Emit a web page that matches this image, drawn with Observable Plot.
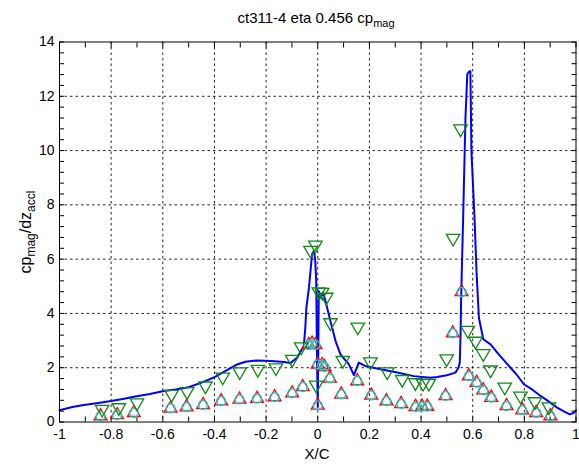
<!DOCTYPE html>
<html><head><meta charset="utf-8">
<script src="https://cdn.jsdelivr.net/npm/d3@7"></script>
<script src="https://cdn.jsdelivr.net/npm/@observablehq/plot@0.6"></script>
<style>body{margin:0;background:#fff}</style>
</head><body><div id="chart"></div>
<script>
// CFD line (x/c, cp_mag/dz_accl)
const lineX = [-1.00,-0.95,-0.906,-0.85,-0.80,-0.75,-0.712,-0.65,-0.596,-0.55,-0.50,-0.45,-0.40,-0.35,-0.312,-0.28,-0.234,-0.18,-0.131,-0.106,-0.08,-0.073,-0.054,-0.048,-0.044,-0.034,-0.022,-0.015,-0.010,-0.006,-0.003,0.000,0.002,0.004,0.011,0.021,0.030,0.049,0.069,0.088,0.105,0.120,0.140,0.159,0.185,0.243,0.308,0.372,0.437,0.462,0.500,0.533,0.545,0.550,0.553,0.555,0.563,0.572,0.579,0.585,0.591,0.593,0.595,0.607,0.615,0.624,0.641,0.669,0.700,0.734,0.770,0.798,0.830,0.863,0.895,0.927,0.955,0.976,0.990,1.000];
const lineY = [0.43,0.55,0.63,0.70,0.77,0.86,0.93,1.03,1.14,1.20,1.28,1.45,1.65,1.92,2.12,2.22,2.27,2.25,2.21,2.17,2.37,2.49,2.80,3.50,4.21,4.95,6.18,6.30,6.00,5.20,2.50,0.55,2.50,4.83,4.58,4.76,4.46,3.72,2.98,2.49,2.30,2.13,1.73,2.19,2.06,1.94,1.82,1.69,1.63,1.66,1.72,1.82,2.00,2.19,3.20,4.46,7.53,11.20,12.81,12.90,12.93,11.50,9.99,7.53,5.50,3.84,3.05,2.86,2.50,2.13,1.75,1.39,1.20,0.96,0.75,0.53,0.38,0.28,0.33,0.43];

// experiment (green, down triangles)
const greenX = [-0.835,-0.77,-0.70,-0.566,-0.506,-0.435,-0.368,-0.302,-0.232,-0.162,-0.099,-0.064,-0.028,-0.009,-0.006,0.004,0.017,0.033,0.049,0.097,0.155,0.204,0.269,0.327,0.378,0.408,0.430,0.499,0.524,0.553,0.581,0.611,0.641,0.669,0.724,0.785,0.841,0.895];
const greenY = [0.47,0.53,0.71,1.02,1.12,1.33,1.66,1.85,1.94,2.00,2.31,2.77,6.33,6.52,1.36,4.80,4.78,4.60,3.66,2.27,3.50,2.22,1.85,1.57,1.45,1.43,1.43,2.33,6.77,10.80,3.38,2.98,2.52,1.92,1.29,0.96,0.75,0.56];

// experiment (red triangles + cyan circles)
const redX = [-0.841,-0.777,-0.712,-0.570,-0.508,-0.444,-0.374,-0.303,-0.235,-0.167,-0.099,-0.058,-0.035,-0.022,-0.009,0.000,0.000,0.017,0.026,0.047,0.091,0.153,0.207,0.266,0.323,0.379,0.404,0.424,0.495,0.523,0.557,0.585,0.615,0.641,0.672,0.731,0.792,0.846,0.901];
const redY = [0.22,0.26,0.34,0.50,0.55,0.63,0.77,0.83,0.86,0.92,1.06,1.29,2.84,2.89,2.84,0.61,2.12,2.10,2.03,1.61,1.02,1.51,0.98,0.77,0.67,0.56,0.57,0.57,0.96,3.27,4.79,1.69,1.45,1.17,0.90,0.59,0.44,0.34,0.22];

// ticks
const xMajor = [-1,-0.8,-0.6,-0.4,-0.2,0,0.2,0.4,0.6,0.8,1];
const xTickLabels = ["-1","-0.8","-0.6","-0.4","-0.2","0","0.2","0.4","0.6","0.8","1"];
const xMinor = [-1,-0.9,-0.8,-0.7,-0.6,-0.5,-0.4,-0.3,-0.2,-0.1,0,0.1,0.2,0.3,0.4,0.5,0.6,0.7,0.8,0.9,1];
const yMajor = [0,2,4,6,8,10,12,14];
const yTickLabels = ["0","2","4","6","8","10","12","14"];
const yMinor = [0,0.4,0.8,1.2,1.6,2,2.4,2.8,3.2,3.6,4,4.4,4.8,5.2,5.6,6,6.4,6.8,7.2,7.6,8,8.4,8.8,9.2,9.6,10,10.4,10.8,11.2,11.6,12,12.4,12.8,13.2,13.6,14];

const line = lineX.map((x,i)=>({x, y: lineY[i]}));
const green = greenX.map((x,i)=>({x, y: greenY[i]}));
const red = redX.map((x,i)=>({x, y: redY[i]}));

const xInner = xMajor.slice(1,-1);
const yInner = yMajor.slice(1,-1);

const chart = Plot.plot({
  width: 579, height: 465,
  marginTop: 41.5, marginBottom: 43.5, marginLeft: 59, marginRight: 3.5,
  style: {fontFamily: "'Liberation Sans', Arial, sans-serif", fontSize: "14px", background: "#fff", color: "#000"},
  x: {domain: [-1, 1], label: null},
  y: {domain: [0, 14], label: null},
  marks: [
    Plot.gridX(xInner, {stroke: "#000", strokeOpacity: 0.85, strokeDasharray: "2.5,3"}),
    Plot.gridY(yInner, {stroke: "#000", strokeOpacity: 0.85, strokeDasharray: "2.5,3"}),
    Plot.axisX(xMinor, {anchor: "bottom", tickSize: -5, tickFormat: () => "", label: null}),
    Plot.axisX(xMinor, {anchor: "top", tickSize: -5, tickFormat: () => "", label: null}),
    Plot.axisY(yMinor, {anchor: "left", tickSize: -5, tickFormat: () => "", label: null}),
    Plot.axisY(yMinor, {anchor: "right", tickSize: -5, tickFormat: () => "", label: null}),
    Plot.axisX(xMajor, {anchor: "bottom", tickSize: 0, tickPadding: 7, tickFormat: (d,i) => xTickLabels[i], label: null}),
    Plot.axisY(yMajor, {anchor: "left", tickSize: 0, tickPadding: 5, tickFormat: (d,i) => yTickLabels[i], label: null}),
    Plot.line(line, {x: "x", y: "y", stroke: "#0000ff", strokeWidth: 2}),
    Plot.dot(red, {x: "x", y: "y", symbol: "triangle", r: 4.8, stroke: "#ff0000", strokeWidth: 1.3, fill: "none"}),
    Plot.dot(red, {x: "x", y: "y", symbol: "circle", r: 4.4, stroke: "#1ccccc", strokeWidth: 1.5, fill: "none"}),
    Plot.dot(green, {x: "x", y: "y", symbol: "triangle", rotate: 180, r: 5, stroke: "#108a10", strokeWidth: 1.3, fill: "none"}),
    Plot.frame({stroke: "#000"})
  ]
});
document.getElementById("chart").appendChild(chart);

const svg = d3.select(chart);
const t = svg.append("text").attr("x", 316).attr("y", 23).attr("text-anchor", "middle")
  .attr("font-size", 15).attr("fill", "#000");
t.append("tspan").text("ct311-4 eta 0.456 cp");
t.append("tspan").attr("font-size", 11).attr("dy", 4).text("mag");

const yl = svg.append("text").attr("transform", "translate(31,232) rotate(-90)")
  .attr("text-anchor", "middle").attr("font-size", 16).attr("fill", "#000");
yl.append("tspan").text("cp");
yl.append("tspan").attr("font-size", 12).attr("dy", 4).text("mag");
yl.append("tspan").attr("dy", -4).text("/dz");
yl.append("tspan").attr("font-size", 12).attr("dy", 4).text("accl");

svg.append("text").attr("x", 317).attr("y", 459).attr("text-anchor", "middle")
  .attr("font-size", 15).attr("fill", "#000").text("X/C");
</script>
</body></html>
